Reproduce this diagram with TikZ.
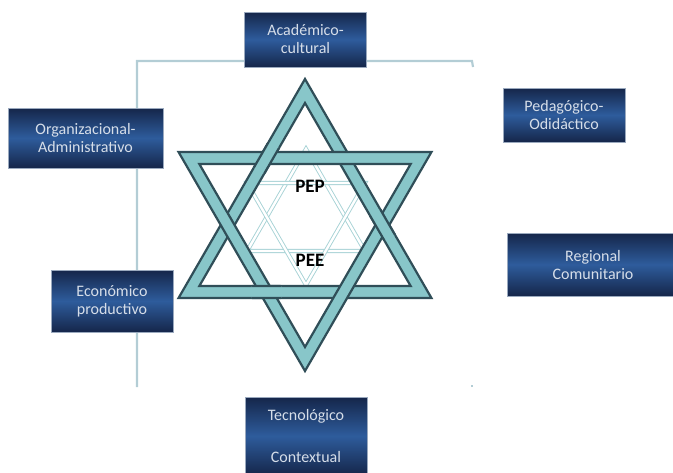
\documentclass[tikz,border=0pt]{standalone}
\usepackage{fontspec}
\setmainfont{Carlito}
\definecolor{boxdark}{HTML}{15264A}
\definecolor{boxmid}{HTML}{2E5C9C}
\definecolor{boxtext}{HTML}{D6DEE9}
\definecolor{boxline}{HTML}{9AA9BE}
\definecolor{frameline}{HTML}{B3CDD5}
\definecolor{banddark}{HTML}{304E58}
\definecolor{bandteal}{HTML}{88C6C9}
\definecolor{innerteal}{HTML}{A6D2D5}
\begin{document}
\begin{tikzpicture}[
    x=1pt, y=-1pt,
    area/.style={rectangle, draw=boxline, line width=0.6pt, top color=boxdark, bottom color=boxdark, middle color=boxmid, text=boxtext, align=center, font=\fontsize{16}{18}\selectfont, inner sep=2pt},
    frame/.style={draw=frameline, line width=2.2pt},
    band/.style={fill=bandteal, draw=banddark, line width=2.2pt, line join=miter, even odd rule},
    innerstar/.style={draw=innerteal, line width=0.9pt, double=white, double distance=2.4pt, line join=miter},
    core/.style={font=\bfseries\fontsize{19}{21}\selectfont, text=black, inner sep=1pt},
    ]
    \useasboundingbox (0,0) rectangle (673,472);

    % Frame behind the star
    \coordinate (ftl) at (137,61);
    \coordinate (ftr) at (472,61);
    \coordinate (fbl) at (137,387);
    \coordinate (fbr) at (472,387);
    \draw[frame] (fbl) -- (ftl) -- (ftr) -- ++(1,6);
    \draw[frame, line width=1.5pt] (fbr) -- ++(0,-2);

    % Small inner star
    \begin{scope}[shift={(306,217)}, yscale=-1]
        \draw[innerstar] (90:68) -- (210:68) -- (330:68) -- cycle;
        \draw[innerstar] (270:68) -- (30:68) -- (150:68) -- cycle;
    \end{scope}

    % Interlaced star
    \begin{scope}[shift={(305,225)}, yscale=-1]
        \path[band] (90:146) -- (210:146) -- (330:146) -- cycle
                    (90:122) -- (210:122) -- (330:122) -- cycle;
        \path[band] (270:146) -- (30:146) -- (150:146) -- cycle
                    (270:122) -- (30:122) -- (150:122) -- cycle;
        % up triangle passes over at three crossings
        \begin{scope}
            \clip (120:77.4) circle (16) (240:77.4) circle (16) (0:77.4) circle (16);
            \path[band] (90:146) -- (210:146) -- (330:146) -- cycle
                        (90:122) -- (210:122) -- (330:122) -- cycle;
        \end{scope}
    \end{scope}

    % Centre labels
    \node[core] (pep) at (310,186) {PEP};
    \node[core] (pee) at (310,260) {PEE};

    % Dimension boxes
    \node[area, minimum width=122, minimum height=55] (acad) at (305.5,39.5) {Académico-\\cultural};
    \node[area, minimum width=155, minimum height=60] (organ) at (85.5,138) {Organizacional-\\Administrativo};
    \node[area, minimum width=122, minimum height=54] (pedag) at (564,115) {Pedagógico-\\Odidáctico};
    \node[area, minimum width=172, minimum height=63] (regio) at (593,264.5) {Regional\\Comunitario};
    \node[area, minimum width=122, minimum height=62] (econ) at (112,301) {Económico\\productivo};
    \node[area, minimum width=122, minimum height=78] (tecno) at (306,436) {Tecnológico\\[24pt]Contextual};

\end{tikzpicture}
\end{document}
